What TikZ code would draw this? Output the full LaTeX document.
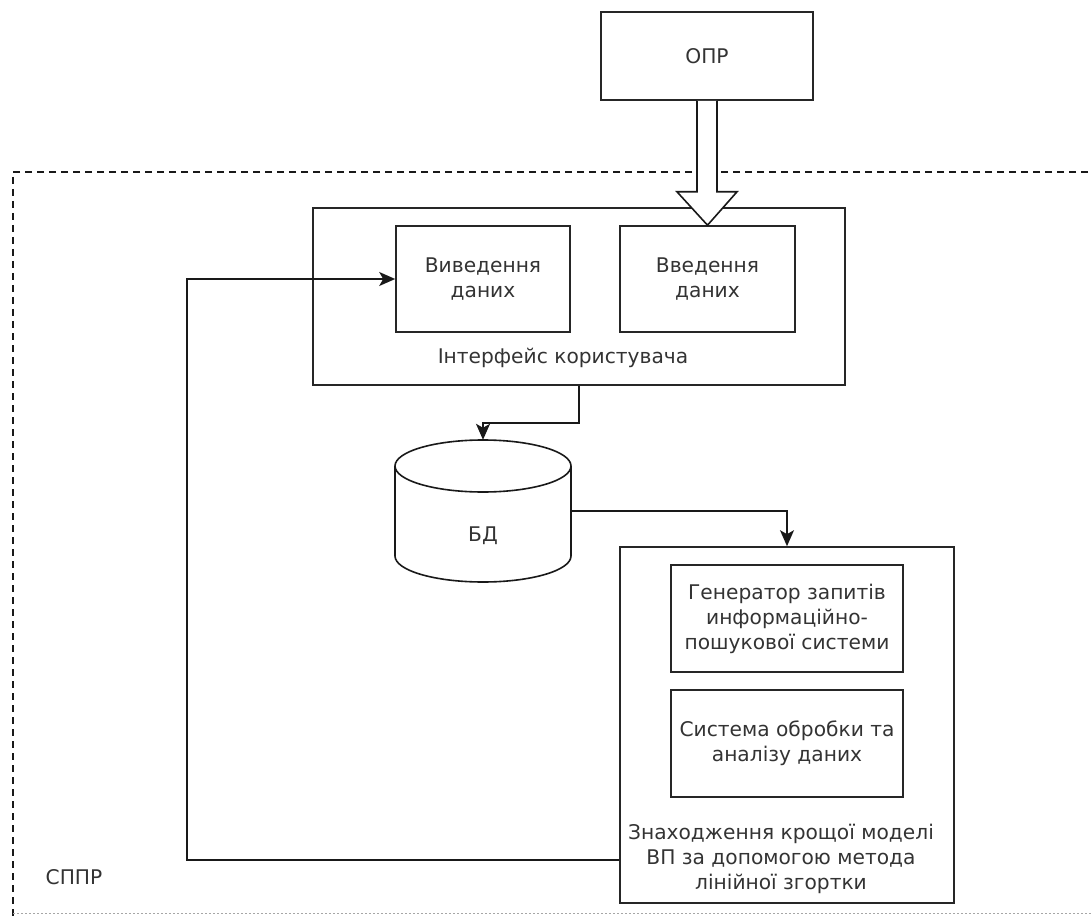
\documentclass[tikz,border=0pt]{standalone}
\usepackage{fontspec}
\setmainfont{DejaVu Sans}
\usetikzlibrary{arrows.meta,calc}

\begin{document}
\begin{tikzpicture}[x=1pt,y=-1pt,
  every node/.style={font=\fontsize{20.2}{25}\selectfont, text=black!80},
  box/.style={draw=black!85, line width=1.6pt, inner sep=0pt,
              minimum width=#1, align=center},
  link/.style={draw=black!90, line width=1.6pt,
               -{Stealth[length=16pt,width=14pt,inset=4pt]}},
  plain/.style={draw=black!90, line width=1.6pt},
  frame/.style={draw=black!90, line width=1.4pt, dash pattern=on 7pt off 5pt}]

\useasboundingbox (0,0) rectangle (1092,917);

% outer system boundary
\draw[frame] (1100,172) -- (13,172) -- (13,917);
\draw[draw=black!35, line width=1pt, dash pattern=on 2pt off 2pt] (13,913) -- (1100,913);
\node[anchor=center] (sppr) at (74,877) {СППР};

% decision maker
\node[box=212pt, minimum height=88pt] (opr) at (707,56) {ОПР};

% user interface block
\node[box=532pt, minimum height=177pt] (iface) at (579,296.5) {};
\node[box=174pt, minimum height=106pt] (vyv) at (483,279) {Виведення\\даних};
\node[box=175pt, minimum height=106pt] (vved) at (707.5,279) {Введення\\даних};
\node (ifacelbl) at (563,358) {Інтерфейс користувача};

% database cylinder
\node[minimum width=176pt, minimum height=142pt, inner sep=0pt] (db) at (483,511) {};
\draw[plain] (483,466) ellipse [x radius=88pt, y radius=26pt];
\draw[plain] (395,466) -- (395,556)
  arc[start angle=180, end angle=360, x radius=88pt, y radius=26pt] -- (571,466);
\node (dblbl) at (483,536) {БД};

% model search block
\node[box=334pt, minimum height=356pt] (lower) at (787,725) {};
\node[box=232pt, minimum height=107pt] (gen) at (787,618.5)
  {Генератор запитів\\информаційно-\\пошукової системи};
\node[box=232pt, minimum height=107pt] (sys) at (787,743.5)
  {Система обробки та\\аналізу даних};
\node[align=center] (lowerlbl) at (781,859)
  {Знаходження крощої моделі\\ВП за допомогою метода\\лінійної згортки};

% hollow arrow from ОПР into the interface
\draw[plain, fill=white]
  ($(opr.south)+(-10,0)$) -- ($(opr.south)+(-10,91)$) -- ($(opr.south)+(-30,91)$)
  -- (vved.north) -- ($(opr.south)+(30,91)$) -- ($(opr.south)+(10,91)$)
  -- ($(opr.south)+(10,0)$);

% data flow connectors
\draw[link] (iface.south) -- ++(0,37) -| (db.north);
\draw[link] (db.east) -| (lower.north);
\coordinate (fbstart) at ($(lower.south west)+(0,-44)$);
\draw[link] (fbstart) -| (187,279) -- (vyv.west);

\end{tikzpicture}
\end{document}
